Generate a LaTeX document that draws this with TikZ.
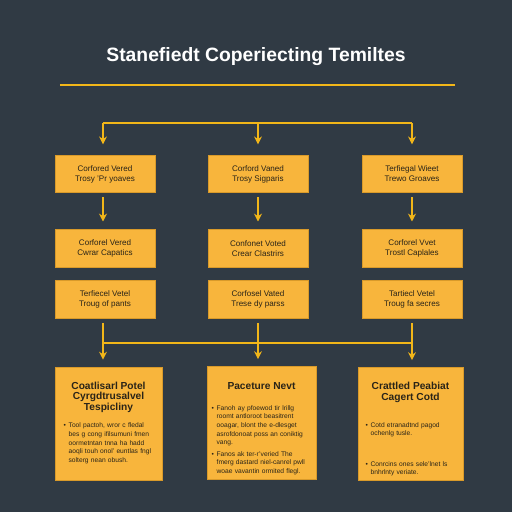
\documentclass[tikz,border=0pt]{standalone}
\usepackage{fontspec}
\setmainfont{Liberation Sans}
\usetikzlibrary{arrows.meta}
\definecolor{slate}{HTML}{303A44}
\definecolor{amber}{HTML}{F8B53C}
\definecolor{amberedge}{HTML}{D99A2A}
\definecolor{gold}{HTML}{F2B619}
\definecolor{ink}{HTML}{2A2418}
\newcommand{\bul}[2][1.68cm]{\textbullet\hspace{1.6pt}\parbox[t]{#1}{\raggedright #2}}
\begin{document}
\begin{tikzpicture}[>={Stealth[length=4.5pt,width=4.5pt]}, x=0.02cm, y=-0.02cm,
    card/.style={fill=amber, draw=amberedge, line width=0.4pt, minimum width=2cm,
        minimum height=0.75cm, align=center, text=ink,
        font=\fontsize{4.6}{5.7}\selectfont},
    sheet/.style={fill=amber, draw=amberedge, line width=0.4pt, minimum height=2.26cm},
    head/.style={anchor=north, align=center, text=ink, font=\bfseries\fontsize{5.8}{6.1}\selectfont},
    note/.style={anchor=north, align=left, text=ink, text width=1.8cm,
        font=\fontsize{3.8}{4.95}\selectfont},
    link/.style={draw=gold, line width=1.2pt}]
        \fill[slate] (0,0) rectangle (512,512);
        % title and rule
        \node[text=white, font=\bfseries\fontsize{11}{12}\selectfont] (title) at (256,57)
            {Stanefiedt Coperiecting Temiltes};
        \draw[gold, line width=1.3pt] (60,85) -- (455,85);
        % first three rows
        \node[card] (a1) at (105,174) {Corfored Vered\\Trosy 'Pr yoaves};
        \node[card] (a2) at (258,174) {Corford Vaned\\Trosy Sigparis};
        \node[card] (a3) at (412,174) {Terfiegal Wieet\\Trewo Groaves};
        \node[card] (b1) at (105,248.5) {Corforel Vered\\Cwrar Capatics};
        \node[card] (b2) at (258,248.5) {Confonet Voted\\Crear Clastrirs};
        \node[card] (b3) at (412,248.5) {Corforel Vvet\\Trostl Caplales};
        \node[card] (c1) at (105,299.5) {Terfiecel Vetel\\Troug of pants};
        \node[card] (c2) at (258,299.5) {Corfosel Vated\\Trese dy parss};
        \node[card] (c3) at (412,299.5) {Tartiecl Vetel\\Troug fa secres};
        % bottom sheets
        \node[sheet, minimum width=2.14cm] (d1) at (108.5,423.5) {};
        \node[sheet, minimum width=2.18cm] (d2) at (261.5,423) {};
        \node[sheet, minimum width=2.1cm] (d3) at (410.5,424) {};
        \node[head] (h1) at ([yshift=-0.18cm]d1.north) {Coatlisarl Potel\\Cyrgdtrusalvel\\Tespicliny};
        \node[note] (n1) at ([yshift=-1.0cm]d1.north)
            {\bul{Tool pactoh, wror c fledal bes g cong ifilsumuni fmen oormetntan tnna ha hadd aoqli touh onol' euntlas fngl solterg nean obush.}};
        \node[head] (h2) at ([yshift=-0.2cm]d2.north) {Paceture Nevt};
        \node[note, text width=2cm] (n2a) at ([yshift=-0.66cm]d2.north)
            {\bul[1.86cm]{Fanoh ay pfoewod tir lrillg roomt antloroot beasitrent ooagar, blont the e-dlesget asrofdonoat poss an coniktig vang.}};
        \node[note, text width=2cm] (n2b) at ([yshift=-1.58cm]d2.north)
            {\bul[1.86cm]{Fanos ak ter-r'veried The fmerg dastard niel-canrel pwll woae vavantin ormited flegl.}};
        \node[head] (h3) at ([yshift=-0.18cm]d3.north) {Crattled Peabiat\\Cagert Cotd};
        \node[note] (n3a) at ([yshift=-0.98cm]d3.north)
            {\bul{Cotd etranadtnd pagod ochenlg tusle.}};
        \node[note] (n3b) at ([yshift=-1.76cm]d3.north)
            {\bul{Conrcins ones sele'lnet ls bnhrlnty veriate.}};
        % upper bus
        \coordinate (ul) at (103,123);
        \coordinate (ur) at (412,123);
        \coordinate (um) at (258,123);
        \draw[link] (ul) -- (ur);
        \draw[link, ->, shorten >=6pt] (ul) -- (a1.north -| ul);
        \draw[link, ->, shorten >=6pt] (um) -- (a2.north);
        \draw[link, ->, shorten >=6pt] (ur) -- (a3.north -| ur);
        % row one to row two
        \draw[link, ->, shorten <=2.5pt, shorten >=4.5pt] (a1.south -| ul) -- (b1.north -| ul);
        \draw[link, ->, shorten <=2.5pt, shorten >=4.5pt] (a2.south) -- (b2.north);
        \draw[link, ->, shorten <=2.5pt, shorten >=4.5pt] (a3.south -| ur) -- (b3.north -| ur);
        % lower bus
        \coordinate (ll) at (103,343);
        \coordinate (lr) at (412,343);
        \draw[link] (ll) -- (lr);
        \draw[link, ->, shorten <=2.5pt, shorten >=4pt] (c1.south -| ul) -- (d1.north -| ul);
        \draw[link, ->, shorten <=2.5pt, shorten >=4pt] (c2.south) -- (d2.north -| c2);
        \draw[link, ->, shorten <=2.5pt, shorten >=4pt] (c3.south -| ur) -- (d3.north -| ur);
\end{tikzpicture}
\end{document}
